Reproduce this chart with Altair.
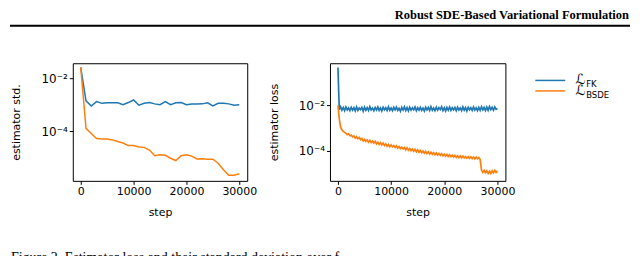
import altair as alt
import pandas as pd

# ---------------- data ----------------
header_text = ["Robust SDE-Based Variational Formulation"]
caption_text = ["Figure 2. Estimator loss and their standard deviation over f"]

series_names = ["FK", "BSDE"]
legend_sub = ["FK", "BSDE"]

# left panel: estimator std., every 1000 steps
std_steps = [0, 1000, 2000, 3000, 4000, 5000, 6000, 7000, 8000, 9000, 10000,
             11000, 12000, 13000, 14000, 15000, 16000, 17000, 18000, 19000, 20000,
             21000, 22000, 23000, 24000, 25000, 26000, 27000, 28000, 29000, 30000]
std_fk = [2.6e-2, 1.4e-3, 8.9e-4, 1.3e-3, 1.12e-3, 1.17e-3, 1.17e-3, 1.17e-3, 1.0e-3, 1.2e-3, 1.5e-3,
          9.5e-4, 1.12e-3, 1.2e-3, 1.07e-3, 1.0e-3, 1.3e-3, 1.0e-3, 1.17e-3, 1.2e-3, 1.0e-3,
          1.05e-3, 1.05e-3, 1.07e-3, 1.17e-3, 8.9e-4, 1.12e-3, 1.12e-3, 1.07e-3, 9.5e-4, 1.0e-3]
std_bsde = [2.6e-2, 1.26e-4, 8.1e-5, 5.2e-5, 5.0e-5, 5.0e-5, 4.6e-5, 4.0e-5, 3.5e-5, 2.8e-5, 2.8e-5,
            2.5e-5, 2.4e-5, 1.9e-5, 1.15e-5, 1.26e-5, 1.2e-5, 9.3e-6, 7.6e-6, 1.15e-5, 1.26e-5,
            1.12e-5, 8.7e-6, 8.9e-6, 8.5e-6, 8.5e-6, 6.0e-6, 3.4e-6, 2.1e-6, 2.1e-6, 2.4e-6]

# right panel: estimator loss, every 250 steps
loss_steps = list(range(0, 30001, 250))
loss_fk = [0.48, 6.5e-3, 8.8e-3, 6.2e-3, 8.2e-3, 5.9e-3, 8.6e-3, 6.4e-3, 7.9e-3, 6.0e-3,
           8.4e-3, 6.3e-3, 8.0e-3, 5.8e-3, 8.7e-3, 6.1e-3, 7.8e-3, 6.6e-3, 8.3e-3, 5.7e-3,
           8.5e-3, 6.2e-3, 8.1e-3, 6.0e-3, 8.9e-3, 6.4e-3, 7.7e-3, 5.9e-3, 8.2e-3, 6.3e-3,
           8.6e-3, 6.1e-3, 7.9e-3, 5.8e-3, 8.4e-3, 6.5e-3, 8.0e-3, 6.0e-3, 8.8e-3, 6.2e-3,
           7.8e-3, 5.9e-3, 8.3e-3, 6.4e-3, 8.5e-3, 6.1e-3, 7.6e-3, 5.6e-3, 8.2e-3, 6.3e-3,
           8.7e-3, 6.0e-3, 8.1e-3, 5.8e-3, 8.4e-3, 6.2e-3, 7.9e-3, 6.5e-3, 8.6e-3, 5.9e-3,
           8.0e-3, 6.3e-3, 8.3e-3, 6.1e-3, 7.7e-3, 5.7e-3, 8.5e-3, 6.4e-3, 8.2e-3, 6.0e-3,
           8.8e-3, 6.2e-3, 7.8e-3, 5.9e-3, 8.4e-3, 6.3e-3, 8.1e-3, 6.6e-3, 8.9e-3, 6.0e-3,
           7.9e-3, 5.8e-3, 8.3e-3, 6.2e-3, 8.6e-3, 6.1e-3, 8.0e-3, 6.4e-3, 8.2e-3, 5.9e-3,
           8.5e-3, 6.3e-3, 7.8e-3, 6.0e-3, 8.7e-3, 6.2e-3, 8.1e-3, 5.7e-3, 8.4e-3, 6.5e-3,
           8.0e-3, 6.1e-3, 8.6e-3, 6.3e-3, 7.9e-3, 5.9e-3, 8.3e-3, 6.2e-3, 8.8e-3, 6.4e-3,
           8.2e-3, 6.0e-3, 8.5e-3, 6.1e-3, 9.0e-3, 6.6e-3, 8.3e-3, 6.2e-3, 8.7e-3, 6.8e-3,
           7.5e-3]
loss_bsde = [1.0e-2, 2.6e-3, 1.1e-3, 8.5e-4, 7.2e-4, 6.5e-4, 6.0e-4, 5.2e-4, 5.6e-4, 4.6e-4,
             4.9e-4, 4.1e-4, 4.5e-4, 3.6e-4, 4.2e-4, 3.4e-4, 3.9e-4, 3.1e-4, 3.5e-4, 2.7e-4,
             3.2e-4, 2.6e-4, 3.0e-4, 2.4e-4, 2.9e-4, 2.3e-4, 2.7e-4, 2.2e-4, 2.6e-4, 2.0e-4,
             2.4e-4, 1.9e-4, 2.3e-4, 1.8e-4, 2.2e-4, 1.7e-4, 2.0e-4, 1.6e-4, 1.9e-4, 1.5e-4,
             1.8e-4, 1.5e-4, 1.7e-4, 1.4e-4, 1.65e-4, 1.3e-4, 1.55e-4, 1.25e-4, 1.45e-4, 1.2e-4,
             1.4e-4, 1.1e-4, 1.35e-4, 1.05e-4, 1.25e-4, 1.0e-4, 1.2e-4, 9.5e-5, 1.15e-4, 9.0e-5,
             1.1e-4, 8.6e-5, 1.02e-4, 8.2e-5, 9.8e-5, 7.8e-5, 9.4e-5, 7.5e-5, 9.0e-5, 7.2e-5,
             8.6e-5, 7.0e-5, 8.3e-5, 6.7e-5, 8.0e-5, 6.5e-5, 7.7e-5, 6.3e-5, 7.4e-5, 6.0e-5,
             7.1e-5, 5.8e-5, 6.9e-5, 5.6e-5, 6.7e-5, 5.5e-5, 6.4e-5, 5.3e-5, 6.2e-5, 5.1e-5,
             6.0e-5, 5.0e-5, 5.9e-5, 4.9e-5, 5.8e-5, 4.8e-5, 5.6e-5, 4.7e-5, 5.5e-5, 4.6e-5,
             5.4e-5, 4.5e-5, 5.3e-5, 4.4e-5, 5.2e-5, 4.4e-5, 5.0e-5, 4.2e-5, 1.4e-5, 1.1e-5,
             1.35e-5, 1.05e-5, 1.3e-5, 1.0e-5, 1.25e-5, 1.0e-5, 1.3e-5, 1.05e-5, 1.35e-5, 1.1e-5,
             1.3e-5]

x_ticks = [0, 10000, 20000, 30000]
y_ticks = [1e-2, 1e-4]
y_tick_labels = ["10\u207b\u00b2", "10\u207b\u2074"]

BLUE = "#1f77b4"
ORANGE = "#ff7f0e"
FONT = "DejaVu Sans"
FS = 11

# ---------------- helpers ----------------
label_expr = " : ".join(
    f"datum.value >= {v * 0.5} ? '{l}'" for v, l in zip(y_ticks[:-1], y_tick_labels[:-1])
) + f" : '{y_tick_labels[-1]}'"

x_axis = alt.Axis(values=x_ticks, format="d", title="step", grid=False,
                  labelFlush=False, tickSize=3.5, labelPadding=1,
                  minExtent=17, maxExtent=17, titlePadding=9)


def y_axis(title):
    return alt.Axis(values=y_ticks, labelExpr=label_expr, title=title, grid=False,
                    tickSize=3.5, labelPadding=2, labelFontSize=12,
                    minExtent=40, maxExtent=40, titlePadding=11)


def line_layers(steps, fk, bsde, ydom, ytitle, sw):
    df = pd.DataFrame({"step": steps * 2, "value": fk + bsde,
                       "series": [series_names[0]] * len(steps) + [series_names[1]] * len(steps)})
    xs = alt.X("step:Q", scale=alt.Scale(domain=[-1500, 31500], nice=False, zero=False), axis=x_axis)
    ys = alt.Y("value:Q", scale=alt.Scale(type="log", domain=ydom, nice=False), axis=y_axis(ytitle))
    base = alt.Chart(df)
    l1 = base.transform_filter(alt.datum.series == series_names[0]).mark_line(
        color=BLUE, strokeWidth=sw, clip=True).encode(x=xs, y=ys)
    l2 = base.transform_filter(alt.datum.series == series_names[1]).mark_line(
        color=ORANGE, strokeWidth=sw, clip=True).encode(x=xs, y=ys)
    return [l1, l2]


# page furniture (header, rule, caption) drawn in the left panel's frame
hdr_df = pd.DataFrame({"t": header_text})
cap_df = pd.DataFrame({"t": caption_text})
top_anchor = alt.Chart(hdr_df).mark_rule(strokeOpacity=0, strokeWidth=1).encode(
    x=alt.value(-63), x2=alt.value(0), y=alt.value(-54.5))
hdr_rule = alt.Chart(hdr_df).mark_rule(color="black", strokeWidth=2, strokeCap="butt").encode(
    x=alt.value(-63), x2=alt.value(559), y=alt.value(-37.5))
hdr_text = alt.Chart(hdr_df).mark_text(align="left", baseline="alphabetic", font="Liberation Serif",
                                       fontSize=12.5, fontWeight="bold", color="black").encode(
    x=alt.value(323), y=alt.value(-44), text="t:N")
cap_text = alt.Chart(cap_df).mark_text(align="left", baseline="alphabetic", font="Liberation Serif",
                                       fontSize=14, color="black").encode(
    x=alt.value(-62), y=alt.value(199), text="t:N")

left = alt.layer(
    *line_layers(std_steps, std_fk, std_bsde, [10 ** -5.89, 10 ** -1.43], "estimator std.", 1.5),
    top_anchor, hdr_rule, hdr_text, cap_text
).properties(width=175, height=118, view=alt.ViewBackground(stroke="black", strokeWidth=1))

right = alt.layer(
    *line_layers(loss_steps, loss_fk, loss_bsde, [10 ** -5.33, 10 ** -0.13], "estimator loss", 1.7)
).properties(width=176, height=118, view=alt.ViewBackground(stroke="black", strokeWidth=1))

# legend panel (its origin sits 53 px right of the legend lines)
leg_df = pd.DataFrame({"series": series_names, "sub": legend_sub, "L": ["\u2112", "\u2112"]})
leg_y = alt.Y("series:N", scale=alt.Scale(domain=series_names, range=[12, 33]), axis=None)
leg_col = alt.Color("series:N", scale=alt.Scale(domain=series_names, range=[BLUE, ORANGE]), legend=None)
leg_base = alt.Chart(leg_df)
leg_lines = leg_base.mark_rule(strokeWidth=1.5).encode(
    x=alt.value(-53), x2=alt.value(-23), y=leg_y, color=leg_col)
leg_L = leg_base.mark_text(align="left", baseline="middle", font=FONT,
                           fontSize=14, color="black").encode(
    x=alt.value(-13), y=leg_y, text="L:N")
leg_sub = leg_base.mark_text(align="left", baseline="middle", font=FONT,
                             fontSize=8.5, dy=4, color="black").encode(
    x=alt.value(-2), y=leg_y, text="sub:N")
legend = alt.layer(leg_lines, leg_L, leg_sub).properties(
    width=36, height=118, view=alt.ViewBackground(stroke="transparent"))

chart = alt.hconcat(left, right, legend, spacing=83, bounds="flush").properties(
    padding=0
).configure_axis(
    labelFont=FONT, titleFont=FONT, labelFontSize=FS, titleFontSize=FS,
    labelColor="black", titleColor="black", domainColor="black", tickColor="black",
    titleFontWeight="normal", domain=False
).configure_view(stroke="black")

chart.save("out.html", embed_options={"renderer": "svg", "actions": False})
